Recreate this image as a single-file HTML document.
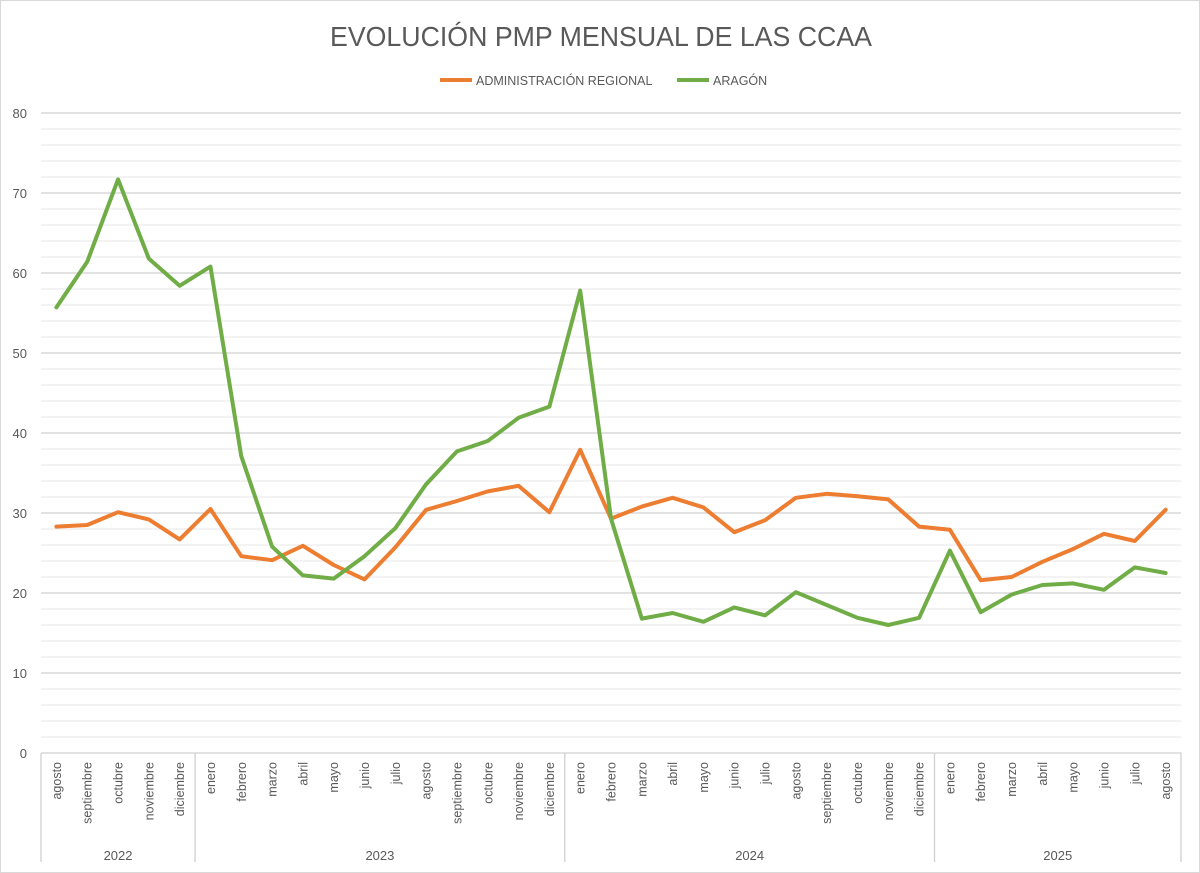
<!DOCTYPE html>
<html><head><meta charset="utf-8"><style>
body{margin:0;background:#fff;}
svg{display:block;font-family:"Liberation Sans",sans-serif;}
</style></head><body>
<svg id="c" width="1200" height="873">
<rect x="0.5" y="0.5" width="1199" height="872" fill="#fff" stroke="#d9d9d9"/>
<text x="601" y="46" font-size="28" fill="#595959" text-anchor="middle" textLength="542" lengthAdjust="spacingAndGlyphs">EVOLUCIÓN PMP MENSUAL DE LAS CCAA</text>
<g>
<line x1="440" y1="80" x2="472" y2="80" stroke="#ed7d31" stroke-width="4"/>
<text x="476" y="85" font-size="12.5" fill="#595959">ADMINISTRACIÓN REGIONAL</text>
<line x1="677" y1="80" x2="709" y2="80" stroke="#70ad47" stroke-width="4"/>
<text x="713" y="85" font-size="12.5" fill="#595959">ARAGÓN</text>
</g>
<g id="grid"></g><g id="axes"></g><g id="series"></g>
</svg>
<script>
const months=["agosto","septiembre","octubre","noviembre","diciembre","enero","febrero","marzo","abril","mayo","junio","julio","agosto","septiembre","octubre","noviembre","diciembre","enero","febrero","marzo","abril","mayo","junio","julio","agosto","septiembre","octubre","noviembre","diciembre","enero","febrero","marzo","abril","mayo","junio","julio","agosto"];
const years=["2022","2023","2024","2025"];
const yearCounts=[5,12,12,8];
const adminRegional=[28.3,28.5,30.1,29.2,26.7,30.5,24.6,24.1,25.9,23.5,21.7,25.7,30.4,31.5,32.7,33.4,30.1,37.9,29.3,30.8,31.9,30.7,27.6,29.1,31.9,32.4,32.1,31.7,28.3,27.9,21.6,22.0,23.9,25.5,27.4,26.5,30.4];
const aragon=[55.7,61.4,71.7,61.8,58.4,60.8,37.1,25.8,22.2,21.8,24.6,28.1,33.6,37.7,39.0,41.9,43.3,57.8,29.3,16.8,17.5,16.4,18.2,17.2,20.1,18.5,16.9,16.0,16.9,25.3,17.6,19.8,21.0,21.2,20.4,23.2,22.5];
const yTicks=[0,10,20,30,40,50,60,70,80];
const NS="http://www.w3.org/2000/svg";
const L=41,R=1181,T=113,B=753,yMax=80;
const band=(R-L)/months.length;
const x=i=>L+band*(i+0.5);
const y=v=>B-(v/yMax)*(B-T);
function mk(tag,attrs,parent,txt){const e=document.createElementNS(NS,tag);for(const k in attrs)e.setAttribute(k,attrs[k]);if(txt!==undefined)e.textContent=txt;parent.appendChild(e);return e;}
const grid=document.getElementById('grid'),axes=document.getElementById('axes'),series=document.getElementById('series');
for(let v=2;v<=yMax;v+=2){
  const g=mk('line',{x1:L,x2:R,y1:y(v),y2:y(v),stroke:v%10===0?'#d0d0d0':'#ececec','stroke-width':1.3},grid);
  
  
}
yTicks.forEach(v=>{
  const t=mk('text',{x:27,y:y(v)+5,'font-size':13,fill:'#595959','text-anchor':'end'},axes,v);
  
  
});
const ax=mk('line',{x1:L,x2:R,y1:B,y2:B,stroke:'#d0d0d0','stroke-width':1.3},axes);


months.forEach((m,i)=>{
  const t=mk('text',{transform:`translate(${x(i)+4.5},762) rotate(-90)`,'font-size':12.5,fill:'#595959','text-anchor':'end'},axes,m);
  
  
});
let start=0;
const sep=i=>{const s=mk('line',{x1:L+band*i,x2:L+band*i,y1:B,y2:862,stroke:'#d0d0d0','stroke-width':1.3},axes);
  
  };
sep(0);
years.forEach((yr,k)=>{
  const c=(start+yearCounts[k]/2);
  const t=mk('text',{x:L+band*c,y:860,'font-size':13,fill:'#595959','text-anchor':'middle'},axes,yr);
  
  
  start+=yearCounts[k];sep(start);
});
function line(data,color,name){
  const p=mk('polyline',{points:data.map((v,i)=>x(i)+','+y(v)).join(' '),fill:'none',stroke:color,'stroke-width':4,'stroke-linejoin':'round','stroke-linecap':'round'},series);
  
  
}
line(adminRegional,'#ed7d31','line-administracion-regional');
line(aragon,'#70ad47','line-aragon');
</script>
</body></html>
